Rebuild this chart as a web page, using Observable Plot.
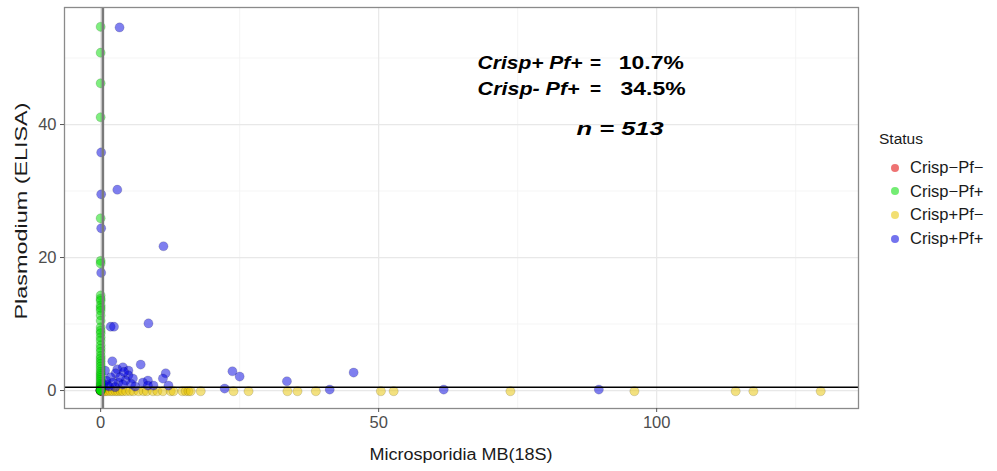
<!DOCTYPE html>
<html>
<head>
<meta charset="utf-8">
<script src="https://cdn.jsdelivr.net/npm/d3@7"></script>
<script src="https://cdn.jsdelivr.net/npm/@observablehq/plot@0.6"></script>
<style>
  body { margin: 0; background: #fff; font-family: "Liberation Sans", Arial, sans-serif; }
  #wrap { position: relative; width: 997px; height: 471px; }
  #legend { position: absolute; left: 879px; top: 130px; font-size: 16.5px; color: #1a1a1a; }
  #legend .title { font-size: 15.5px; margin-bottom: 8px; }
  #legend .item { display: flex; align-items: center; height: 23.6px; }
  #legend .dot { width: 8px; height: 8px; border-radius: 50%; margin-left: 12px; margin-right: 11px; }
</style>
</head>
<body>
<div id="wrap"><div id="chart"></div><div id="legend"></div></div>
<script>
// Status categories and colours
const statusLevels = ["Crisp-Pf-", "Crisp-Pf+", "Crisp+Pf-", "Crisp+Pf+"];
const statusLabels = ["Crisp−Pf−", "Crisp−Pf+", "Crisp+Pf−", "Crisp+Pf+"];
const statusColors = ["#e00000", "#00dd00", "#e8c400", "#0000e0"];

// Crisp-Pf- (all at the origin)
const negNegX = [0, 0, 0, 0, 0, 0];
const negNegY = [0, 0, 0, 0, 0, 0];

// Crisp-Pf+ (Microsporidia = 0)
const negPosY = [54.7, 50.8, 46.2, 41.1, 25.9, 19.5, 19.1, 14.3, 13.8, 13.5, 12.8, 12.4, 12.0, 11.3,
  10.5, 9.5, 9.0, 8.6, 8.0, 7.5, 6.8, 6.3, 5.8, 5.2, 4.8, 4.4, 4.0, 3.6, 3.2, 2.8, 2.5, 2.2, 1.9,
  1.6, 1.3, 1.0, 0.8, 0.6, 0.4, 0.2, 0.1, 0.0, 0.0, 0.0, 0.0];
const negPosX = negPosY.map(() => 0);

// Crisp+Pf-
const posNegX = [0.3, 0.6, 0.9, 1.3, 1.8, 2.2, 2.7, 3.1, 3.6, 4.0, 4.6, 5.3, 5.9, 6.8, 7.7, 8.3, 9.4,
  10.2, 11.2, 12.6, 13.1, 14.7, 15.3, 15.8, 16.2, 18.0, 23.9, 26.6, 33.6, 35.4, 38.7, 50.4, 52.7,
  73.7, 96.0, 114.2, 117.4, 129.5];
const posNegY = posNegX.map(() => -0.1);

// Crisp+Pf+
const posPosX = [0.1, 0.1, 0.1, 0.1, 3.4, 3.0, 11.3, 1.8, 2.4, 8.6, 2.1, 7.2, 3.0, 4.0, 5.0, 5.0, 2.7,
  1.8, 11.7, 11.2, 8.5, 7.6, 4.5, 3.2, 2.2, 5.8, 9.5, 8.5, 12.2, 23.7, 25.0, 22.3, 33.5, 45.5, 41.2,
  61.7, 89.6, 1.0, 1.2, 0.8, 3.5, 4.2, 6.2, 2.6, 1.5, 4.0, 5.5, 0.5];
const posPosY = [35.8, 29.5, 24.4, 17.7, 54.6, 30.2, 21.7, 9.6, 9.6, 10.1, 4.4, 3.9, 3.2, 3.5, 3.0, 2.3,
  2.6, 2.0, 2.6, 1.8, 1.5, 1.2, 1.5, 1.2, 1.2, 1.8, 0.75, 0.75, 0.75, 2.9, 2.1, 0.3, 1.4, 2.7, 0.15,
  0.15, 0.15, 1.5, 0.8, 3.0, 2.0, 2.8, 0.6, 0.5, 0.6, 0.9, 1.0, 1.0];

const xTicks = [0, 50, 100];
const xMinor = [25, 75, 125];
const yTicks = [0, 20, 40];
const yMinor = [10, 30, 50];

const rows = [];
const add = (xs, ys, s) => xs.forEach((x, i) => rows.push({x, y: ys[i], status: s}));
add(negNegX, negNegY, statusLevels[0]);
add(posNegX, posNegY, statusLevels[2]);
add(posPosX, posPosY, statusLevels[3]);
add(negPosX, negPosY, statusLevels[1]);

const font = "'Liberation Sans', Arial, sans-serif";
const ann = (txt, x, y, italic) => Plot.text([txt], {x, y, text: d => d, textAnchor: "start",
  fontSize: 19, fontWeight: "bold", fontStyle: italic ? "italic" : "normal", fill: "#000"});

const chart = Plot.plot({
  width: 997,
  height: 471,
  marginLeft: 64,
  marginRight: 139,
  marginTop: 7,
  marginBottom: 63,
  style: {fontFamily: font, background: "#fff"},
  x: {domain: [-6.5, 136.3]},
  y: {domain: [-2.7, 57.6]},
  color: {domain: statusLevels, range: statusColors},
  marks: [
    Plot.gridX(xMinor, {stroke: "#f2f2f2", strokeOpacity: 1, strokeWidth: 0.8}),
    Plot.gridY(yMinor, {stroke: "#f2f2f2", strokeOpacity: 1, strokeWidth: 0.8}),
    Plot.gridX(xTicks, {stroke: "#e8e8e8", strokeOpacity: 1, strokeWidth: 1.2}),
    Plot.gridY(yTicks, {stroke: "#e8e8e8", strokeOpacity: 1, strokeWidth: 1.2}),
    Plot.dot(rows, {x: "x", y: "y", fill: "status", fillOpacity: 0.5, r: 4.6,
      stroke: "#000", strokeOpacity: 0.22, strokeWidth: 0.6}),
    Plot.ruleX([0.4], {stroke: "#7a7a7a", strokeWidth: 2.6}),
    Plot.ruleY([0.5], {stroke: "#000", strokeWidth: 1.5}),
    Plot.frame({stroke: "#8a8a8a", strokeWidth: 1.3}),
    Plot.axisX({ticks: xTicks, tickSize: 4, tickPadding: 4, fontSize: 16.5, color: "#4d4d4d",
      stroke: "#555", label: "Microsporidia MB(18S)", labelAnchor: "center", labelArrow: "none",
      labelOffset: 54}),
    Plot.axisY({ticks: yTicks, tickSize: 4, tickPadding: 4, fontSize: 16.5, color: "#4d4d4d",
      stroke: "#555", label: "Plasmodium (ELISA)", labelAnchor: "center", labelArrow: "none",
      labelOffset: 55}),
    ann("Crisp+ Pf+", 67.8, 49.3, true),
    ann("=", 88.0, 49.3, false),
    ann("10.7%", 93.2, 49.3, false),
    ann("Crisp- Pf+", 67.8, 45.4, true),
    ann("=", 88.0, 45.4, false),
    ann("34.5%", 93.5, 45.4, false),
    ann("n = 513", 85.6, 39.4, true)
  ]
});

// stretch text widths to match the reference's horizontally stretched rendering
const annLengths = [105, null, 65, 102, null, 65, 87];
chart.querySelectorAll("g[aria-label='text']").forEach((g, i) => {
  const t = g.querySelector("text");
  if (t && annLengths[i]) {
    t.setAttribute("textLength", annLengths[i]);
    t.setAttribute("lengthAdjust", "spacingAndGlyphs");
  }
});
function fixLabel(sel, tx, ty, rot, len, size) {
  const g = chart.querySelector(sel);
  if (!g) return;
  g.removeAttribute("transform");
  const t = g.querySelector("text");
  t.setAttribute("transform", `translate(${tx},${ty})` + (rot ? ` rotate(${rot})` : ""));
  ["x", "y", "dy"].forEach(a => t.removeAttribute(a));
  t.querySelectorAll("tspan").forEach(s => ["x", "y", "dy"].forEach(a => s.removeAttribute(a)));
  t.setAttribute("text-anchor", "middle");
  t.setAttribute("fill", "#1a1a1a");
  t.style.fontSize = size + "px";
  t.setAttribute("textLength", len);
  t.setAttribute("lengthAdjust", "spacingAndGlyphs");
}
fixLabel("g[aria-label='x-axis label']", 461, 460, 0, 183, 16);
fixLabel("g[aria-label='y-axis label']", 26.5, 211, -90, 217, 17);

document.getElementById("chart").appendChild(chart);

const legend = document.getElementById("legend");
legend.innerHTML = `<div class="title">Status</div>` + statusLevels.map((s, i) =>
  `<div class="item"><span class="dot" style="background:${statusColors[i]};opacity:0.55"></span>${statusLabels[i]}</div>`).join("");
</script>
</body>
</html>
